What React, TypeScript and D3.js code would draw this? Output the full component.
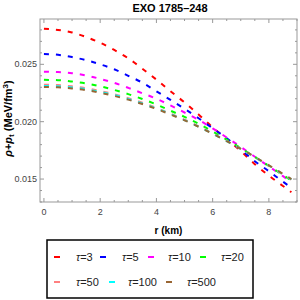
import React from 'react'
import * as d3 from 'd3'

// radial coordinate r (km)
const rValues = [0, 0.5, 1, 1.5, 2, 2.5, 3, 3.5, 4, 4.5, 5, 5.5, 6, 6.5, 7, 7.5, 8, 8.5, 8.8]

const tau3 = [0.0281, 0.028, 0.02778, 0.02738, 0.02688, 0.02625, 0.02552, 0.02462, 0.02367, 0.02266, 0.02168, 0.02063, 0.01951, 0.01848, 0.01745, 0.0163, 0.0153, 0.0144, 0.01385]
const tau5 = [0.0259, 0.02583, 0.02563, 0.02536, 0.025, 0.02457, 0.024, 0.0234, 0.02265, 0.0219, 0.02112, 0.0203, 0.01942, 0.01856, 0.01757, 0.01655, 0.01568, 0.01477, 0.01425]
const tau10 = [0.02436, 0.02433, 0.02423, 0.02403, 0.02373, 0.02338, 0.02295, 0.02248, 0.022, 0.02142, 0.0208, 0.02016, 0.01942, 0.01862, 0.0178, 0.01694, 0.0161, 0.01525, 0.01475]
const tau20 = [0.02365, 0.02362, 0.0235, 0.02333, 0.02308, 0.02277, 0.0224, 0.02198, 0.0215, 0.02096, 0.02042, 0.01982, 0.01915, 0.01844, 0.0177, 0.01693, 0.01615, 0.01535, 0.01488]
const tau50 = [0.02322, 0.02319, 0.02308, 0.02292, 0.02268, 0.0224, 0.02205, 0.02165, 0.0212, 0.0207, 0.02018, 0.0196, 0.01898, 0.01832, 0.01763, 0.0169, 0.01617, 0.0154, 0.01495]
const tau100 = [0.02312, 0.02309, 0.02298, 0.02283, 0.0226, 0.02232, 0.02198, 0.02159, 0.02115, 0.02066, 0.02014, 0.01957, 0.01896, 0.01831, 0.01763, 0.01691, 0.01618, 0.01542, 0.01497]
const tau500 = [0.02303, 0.023, 0.0229, 0.02275, 0.02252, 0.02225, 0.02192, 0.02154, 0.02111, 0.02063, 0.02012, 0.01956, 0.01895, 0.01831, 0.01764, 0.01693, 0.0162, 0.01545, 0.015]

const seriesNames = ['τ=3', 'τ=5', 'τ=10', 'τ=20', 'τ=50', 'τ=100', 'τ=500']
const seriesValues = [tau3, tau5, tau10, tau20, tau50, tau100, tau500]
const seriesColors = ['#ff0000', '#0000ff', '#ff00ff', '#00ff00', '#ff8080', '#00ffff', '#996633']

const xMajorTicks = [0, 2, 4, 6, 8]
const yMajorTicks = [0.015, 0.02, 0.025]

const margin = { top: 19, right: 3, bottom: 98, left: 40 }
const width = 300
const height = 300

const App = () => {
  const innerW = width - margin.left - margin.right
  const innerH = height - margin.top - margin.bottom

  const x = d3.scaleLinear().domain([-0.14, 9.0]).range([0, innerW])
  const y = d3.scaleLinear().domain([0.01300, 0.02895]).range([innerH, 0])

  const line = d3
    .line<number>()
    .x((_, i) => x(rValues[i]))
    .y(d => y(d))
    .curve(d3.curveMonotoneX)

  const xMinor = d3.range(0, 9.01, 0.5)
  const yMinor = d3.range(0.013, 0.0289, 0.001)

  const frame = '#999'
  const sans = 'Liberation Sans, Arial, sans-serif'
  const tickFont = { fontFamily: sans, fontSize: 9, fill: '#444' }

  // legend layout: marker x, text x, row y
  const legendPos = [
    { mx: 57, tx: 76, y: 257 },
    { mx: 103, tx: 122, y: 257 },
    { mx: 151, tx: 168, y: 257 },
    { mx: 203, tx: 221, y: 257 },
    { mx: 57, tx: 76, y: 282 },
    { mx: 112, tx: 128, y: 282 },
    { mx: 169, tx: 187, y: 282 }
  ]

  return (
    <svg width={width} height={height} style={{ position: 'absolute', left: 0, top: 0, background: '#fff' }}>
      <text x={170} y={12} textAnchor='middle' style={{ fontFamily: sans, fontSize: 11, fontWeight: 'bold' }}>
        EXO 1785–248
      </text>
      <g transform={`translate(${margin.left},${margin.top})`}>
        {seriesValues.map((vals, i) => (
          <path
            key={seriesNames[i]}
            d={line(vals) || ''}
            fill='none'
            stroke={seriesColors[i]}
            strokeWidth={2}
            strokeDasharray='5,7'
          />
        ))}
        <rect x={0} y={0} width={innerW} height={innerH} fill='none' stroke={frame} strokeWidth={1} />
        {xMinor.map(t => {
          const major = xMajorTicks.includes(t)
          const len = major ? 4 : 2
          return (
            <g key={'x' + t}>
              <line x1={x(t)} x2={x(t)} y1={innerH} y2={innerH - len} stroke={frame} />
              <line x1={x(t)} x2={x(t)} y1={0} y2={len} stroke={frame} />
            </g>
          )
        })}
        {yMinor.map(t => {
          const major = yMajorTicks.some(m => Math.abs(m - t) < 1e-6)
          const len = major ? 4 : 2
          return (
            <g key={'y' + t}>
              <line x1={0} x2={len} y1={y(t)} y2={y(t)} stroke={frame} />
              <line x1={innerW} x2={innerW - len} y1={y(t)} y2={y(t)} stroke={frame} />
            </g>
          )
        })}
        {xMajorTicks.map(t => (
          <text key={'xl' + t} x={x(t)} y={innerH + 13} textAnchor='middle' style={tickFont}>
            {t}
          </text>
        ))}
        {yMajorTicks.map(t => (
          <text key={'yl' + t} x={-3} y={y(t) + 3} textAnchor='end' style={tickFont}>
            {t.toFixed(3)}
          </text>
        ))}
        <text x={innerW / 2} y={innerH + 32} textAnchor='middle' style={{ fontFamily: sans, fontSize: 10, fontWeight: 'bold' }}>
          r (km)
        </text>
        <text
          transform={`translate(${-28},${innerH / 2 + 8}) rotate(-90)`}
          textAnchor='middle'
          style={{ fontFamily: sans, fontSize: 11, fontWeight: 'bold' }}
        >
          <tspan fontStyle='italic'>ρ</tspan>+<tspan fontStyle='italic'>p</tspan>
          <tspan fontSize={8} dy={2}>t</tspan>
          <tspan dy={-2}> (MeV/fm</tspan>
          <tspan fontSize={8} dy={-4}>3</tspan>
          <tspan dy={4}>)</tspan>
        </text>
      </g>
      <rect x={47} y={240} width={206} height={58} fill='#fff' stroke='#000' strokeWidth={1.5} />
      {seriesNames.map((name, i) => (
        <g key={'lg' + name}>
          <line
            x1={legendPos[i].mx - 3}
            x2={legendPos[i].mx + 3}
            y1={legendPos[i].y}
            y2={legendPos[i].y}
            stroke={seriesColors[i]}
            strokeWidth={2}
          />
          <text x={legendPos[i].tx} y={legendPos[i].y + 4} style={{ fontFamily: sans, fontSize: 11, fill: '#222' }}>
            <tspan fontStyle='italic'>τ</tspan>
            {name.slice(1)}
          </text>
        </g>
      ))}
    </svg>
  )
}

export default App
